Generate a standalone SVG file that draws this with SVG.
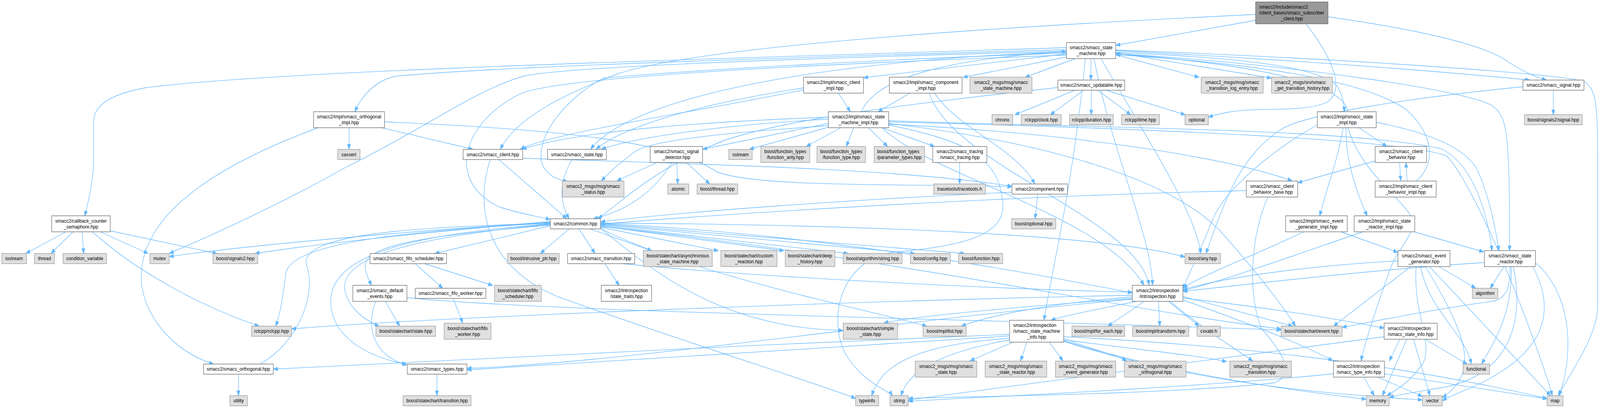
<svg xmlns="http://www.w3.org/2000/svg" width="4643" height="1042" viewBox="0 0 4643 1042">
<style>
.n rect{fill:#ffffff;stroke:#666666;stroke-width:1.33}
.x rect{fill:#e0e0e0;stroke:#999999;stroke-width:1.33}
.r rect{fill:#999999;stroke:#666666;stroke-width:1.33}
text{font-family:"Liberation Sans",Arial,Helvetica,sans-serif;font-size:13.33px;fill:#000000;text-anchor:middle}
text.l{text-anchor:start}
#edges path{fill:none;stroke:#63b8ff;stroke-width:1.33;marker-end:url(#a)}
</style>
<defs>
<marker id="a" markerUnits="userSpaceOnUse" markerWidth="14" markerHeight="10" refX="13" refY="5" orient="auto"><path d="M0,0L13,5L0,10z" fill="#63b8ff" stroke="#63b8ff" stroke-width="1"/></marker>
</defs>
<rect width="4643" height="1042" fill="#ffffff"/>
<g id="diagram" transform="scale(0.8821,1)">
<g id="edges">
<path d="M3644,37 C3100,60 2050,110 1790,190 C1640,240 1500,300 1452,382"/>
<path d="M3644,52 L3238,116"/>
<path d="M3790,61 C3860,140 3910,230 3850,262 C3780,290 3660,272 3560,288 C3535,292 3520,296 3507,300"/>
<path d="M3854,43 C4150,80 4320,120 4380,160 C4430,190 4470,200 4488,205"/>
<path d="M3166,150 L3166,205"/>
<path d="M3238,140 L3480,198"/>
<path d="M3238,135 L3690,200"/>
<path d="M3120,150 L2975,198"/>
<path d="M3095,146 L2795,198"/>
<path d="M3095,138 L2506,199"/>
<path d="M3238,130 C3700,150 4150,180 4440,205"/>
<path d="M3238,134 C3650,150 3830,175 3880,220 C3895,240 3900,260 3902,286"/>
<path d="M3238,137 C3750,165 4250,230 4330,270 C4375,300 4381,330 4381,642"/>
<path d="M3238,128 C3900,150 4560,190 4600,210 C4630,230 4637,260 4637,400 L4637,780 C4637,860 4560,950 4522,1013"/>
<path d="M3095,122 C2100,150 800,180 420,225 C300,245 272,280 272,310 L272,400 C272,460 258,510 246,553"/>
<path d="M3095,127 C2200,150 1450,170 1150,195 C1090,205 1050,245 1030,286"/>
<path d="M3095,133 C2500,150 1850,230 1714,382"/>
<path d="M3095,141 C2200,170 1620,200 1510,240 C1330,320 1300,470 1450,530 C1500,545 1550,552 1597,562"/>
<path d="M3175,150 C3230,400 3340,600 3345,730"/>
<path d="M3150,150 C3110,500 3050,700 3030,820"/>
<path d="M3195,150 C3360,400 3470,550 3485,649"/>
<path d="M3095,131 C2300,150 1650,170 1520,195 C1380,230 1250,320 1000,430 C820,520 620,600 491,649"/>
<path d="M3095,136 C2600,150 2000,180 1750,200 C1650,250 1570,330 1570,400 C1570,440 1610,460 1647,464"/>
<path d="M2433,238 L2468,286"/>
<path d="M2332,230 C2000,290 1600,340 1510,382"/>
<path d="M2642,238 L2548,286"/>
<path d="M2712,238 C2780,330 2950,380 3003,471"/>
<path d="M2697,238 C2760,420 3300,560 3335,730"/>
<path d="M3120,231 L2945,294"/>
<path d="M3145,231 L3048,294"/>
<path d="M3167,231 L3167,294"/>
<path d="M3186,231 L3282,294"/>
<path d="M3210,231 L3440,294"/>
<path d="M3070,224 C2700,260 2300,300 2100,360 C1900,430 1800,520 1735,560"/>
<path d="M4508,231 L4508,294"/>
<path d="M4420,222 C4100,250 3800,290 3720,330 C3600,400 3560,500 3500,649"/>
<path d="M1013,327 L1013,382"/>
<path d="M1108,327 L1372,382"/>
<path d="M923,327 C700,400 420,520 410,700 C405,800 500,900 620,932"/>
<path d="M1116,312 C1600,330 1950,360 2080,440 C2200,480 2600,470 2937,478"/>
<path d="M2500,286 C2540,200 2750,150 3095,132"/>
<path d="M2478,327 L2456,375"/>
<path d="M2520,327 L2576,375"/>
<path d="M2560,327 L2712,375"/>
<path d="M2440,327 L2340,375"/>
<path d="M2420,322 L2175,382"/>
<path d="M2404,316 L2039,382"/>
<path d="M2404,322 C2100,340 1880,360 1840,390 C1780,430 1760,450 1745,463"/>
<path d="M2404,305 C2100,320 1850,350 1745,382"/>
<path d="M2404,300 C2100,310 1700,330 1515,382"/>
<path d="M2579,318 C3100,340 3550,400 3750,463"/>
<path d="M2579,309 C3300,330 3900,330 4180,380 C4280,420 4320,560 4330,642"/>
<path d="M2579,312 C3400,330 4100,360 4200,400 C4300,500 4470,900 4505,1013"/>
<path d="M2579,320 C2800,360 2900,400 2910,520 C2920,600 2800,630 2600,645 C2450,660 2400,800 2450,900 C2500,980 2580,1000 2590,1013"/>
<path d="M2560,327 C2700,450 3200,550 3320,730"/>
<path d="M2579,316 C3000,360 3400,450 3550,600 C3650,700 3720,780 3760,835"/>
<path d="M3912,286 C3900,220 3700,170 3238,137"/>
<path d="M3944,327 L4025,375"/>
<path d="M3906,327 C3905,400 3930,480 3968,553"/>
<path d="M3994,313 C4150,340 4260,380 4290,440 C4320,500 4340,580 4350,642"/>
<path d="M3898,327 C3880,420 3850,480 3830,553"/>
<path d="M3823,320 C3700,380 3560,480 3520,560 C3480,650 3450,700 3433,740"/>
<path d="M3912,327 C3950,440 4060,500 4100,560 C4110,600 4050,640 4030,700 C3990,800 3960,880 3950,924"/>
<path d="M1447,408 L1645,560"/>
<path d="M1517,405 C2000,420 2600,430 2937,477"/>
<path d="M1423,408 C1380,520 1400,680 1620,760 C2000,880 2400,990 2483,1020"/>
<path d="M1660,408 C1620,470 1625,520 1652,560"/>
<path d="M1907,416 L1790,463"/>
<path d="M1964,416 L1967,471"/>
<path d="M1992,416 L2060,471"/>
<path d="M1950,416 C1900,490 1820,540 1722,560"/>
<path d="M2785,416 L2785,471"/>
<path d="M4062,416 L4065,463"/>
<path d="M3991,412 L3766,468"/>
<path d="M4084,463 L4080,416"/>
<path d="M4110,463 C4170,420 4160,340 4080,280 C3950,200 3600,160 3238,140"/>
<path d="M3617,488 C3000,500 2200,540 1743,574"/>
<path d="M3680,504 C3630,600 3620,750 3660,840 C3740,920 3750,960 3700,980 C3400,1010 2800,1015 2636,1020"/>
<path d="M3012,497 L3004,560"/>
<path d="M2937,492 C2500,510 2000,540 1743,568"/>
<path d="M192,593 L75,649"/>
<path d="M212,593 L148,649"/>
<path d="M238,593 L243,649"/>
<path d="M290,593 L430,649"/>
<path d="M320,591 L630,649"/>
<path d="M268,593 C400,700 600,790 752,835"/>
<path d="M1652,586 L1568,649"/>
<path d="M1680,586 L1727,649"/>
<path d="M1712,586 L1892,642"/>
<path d="M1743,582 L2085,642"/>
<path d="M1743,579 L2275,642"/>
<path d="M1743,577 L2462,649"/>
<path d="M1743,575 L2655,649"/>
<path d="M1743,573 L2800,649"/>
<path d="M1743,571 C2500,575 3200,600 3439,658"/>
<path d="M1743,572 C2400,600 3000,700 3286,750"/>
<path d="M1743,580 C2600,660 3300,800 3718,842"/>
<path d="M1743,584 C1900,700 2100,840 2447,846"/>
<path d="M1743,585 C2000,700 2500,790 2690,835"/>
<path d="M1597,578 L1262,649"/>
<path d="M1597,576 C1300,600 1060,620 1060,680 C1060,700 1070,715 1078,731"/>
<path d="M1597,574 C1300,600 990,640 1000,740 C1010,790 1060,820 1100,835"/>
<path d="M1597,573 C1200,600 950,650 960,780 C970,880 1100,920 1180,932"/>
<path d="M1597,571 C1200,590 840,620 830,700 C820,760 815,800 800,835"/>
<path d="M1597,569 C1200,590 700,630 491,657"/>
<path d="M1597,567 C1300,590 950,620 740,649"/>
<path d="M755,932 C860,880 920,760 890,680 C860,600 1200,580 1597,572"/>
<path d="M1205,675 L1285,738"/>
<path d="M1232,675 L1430,731"/>
<path d="M1118,771 L1160,835"/>
<path d="M1090,771 C1060,850 1090,910 1180,935"/>
<path d="M1181,762 C1600,800 3000,820 3718,845"/>
<path d="M1315,764 L1343,827"/>
<path d="M1755,675 L1797,731"/>
<path d="M1806,675 C2200,710 2900,740 3286,748"/>
<path d="M3322,771 L3215,835"/>
<path d="M3362,771 L3366,835"/>
<path d="M3390,771 L3480,835"/>
<path d="M3433,759 L3752,835"/>
<path d="M3433,763 C3700,790 3900,820 4017,840"/>
<path d="M3433,768 C3600,820 3780,880 3868,924"/>
<path d="M3395,771 C3460,820 3560,880 3636,924"/>
<path d="M3300,771 C3200,790 3100,805 3050,820"/>
<path d="M3286,760 C3000,780 2850,815 2790,835"/>
<path d="M3286,764 C2900,790 2650,810 2565,827"/>
<path d="M3286,756 C2500,770 1300,810 846,842"/>
<path d="M3286,766 C2600,820 1800,930 1355,943"/>
<path d="M2940,876 L2815,924"/>
<path d="M2980,876 L2962,924"/>
<path d="M3045,876 L3085,924"/>
<path d="M3087,866 C3150,890 3230,905 3270,924"/>
<path d="M3087,870 C3300,895 3480,910 3560,926"/>
<path d="M2930,866 C2700,880 2560,920 2530,1013"/>
<path d="M2930,870 C2750,900 2640,940 2615,1013"/>
<path d="M3087,862 C3500,880 4000,920 4490,1020"/>
<path d="M3087,872 C3400,960 3800,1005 3965,1022"/>
<path d="M3087,874 C3500,990 3900,1010 4128,1024"/>
<path d="M2930,860 C2400,890 1700,930 1355,947"/>
<path d="M2930,856 C2200,880 1200,930 793,945"/>
<path d="M4063,868 L4032,924"/>
<path d="M4083,868 L4012,1013"/>
<path d="M4102,868 L4150,1013"/>
<path d="M4135,868 L4258,932"/>
<path d="M4017,862 C3700,900 3000,980 2636,1024"/>
<path d="M3958,965 L3988,1013"/>
<path d="M3997,965 L4128,1015"/>
<path d="M4018,957 L4490,1021"/>
<path d="M3870,957 C3500,990 2900,1015 2636,1027"/>
<path d="M4095,682 L3870,835"/>
<path d="M4110,682 C4100,800 4160,880 4130,930 C4090,980 4050,1000 4025,1013"/>
<path d="M4122,682 C4150,800 4250,850 4270,932"/>
<path d="M4137,682 C4250,850 4300,950 4186,1018"/>
<path d="M4148,682 L4500,1013"/>
<path d="M4175,682 L4283,738"/>
<path d="M4057,668 C3800,680 3550,710 3433,742"/>
<path d="M4365,682 L4325,738"/>
<path d="M4383,682 C4383,740 4370,760 4340,770 C4100,800 3950,830 3895,838"/>
<path d="M4386,682 C4390,800 4340,870 4300,932"/>
<path d="M4392,682 C4420,800 4400,950 4200,990 C4100,1005 4060,1010 4032,1018"/>
<path d="M4448,682 C4520,800 4480,900 4300,980 C4240,1005 4210,1012 4186,1026"/>
<path d="M4456,673 C4560,750 4570,900 4525,1013"/>
<path d="M4308,672 C4000,690 3700,720 3433,746"/>
<path d="M3890,593 L4057,646"/>
<path d="M3785,593 C3650,650 3500,700 3433,737"/>
<path d="M4102,593 L4306,645"/>
<path d="M3957,593 C3800,640 3550,720 3433,744"/>
<path d="M2332,225 C2000,270 1800,330 1730,382"/>
<path d="M692,958 L692,1013"/>
<path d="M1268,958 L1268,1013"/>
</g>
<g id="node-title" class="r"><rect x="3644" y="5" width="210" height="56"/><text class="l" x="3654.5" y="22.5">smacc2/include/smacc2</text><text class="l" x="3654.5" y="37.5">/client_bases/smacc_subscriber</text><text x="3749" y="52.5">_client.hpp</text></g>
<g id="node-state-machine" class="n"><rect x="3095" y="109" width="143" height="41"/><text x="3166.5" y="126.5">smacc2/smacc_state</text><text x="3166.5" y="141.5">_machine.hpp</text></g>
<g id="node-client-impl" class="n"><rect x="2332" y="197.5" width="174" height="41"/><text x="2419" y="215">smacc2/impl/smacc_client</text><text x="2419" y="230">_impl.hpp</text></g>
<g id="node-component-impl" class="n"><rect x="2581" y="197.5" width="211" height="41"/><text x="2686.5" y="215">smacc2/impl/smacc_component</text><text x="2686.5" y="230">_impl.hpp</text></g>
<g id="node-msgs-state-machine" class="x"><rect x="2815" y="197.5" width="180" height="41"/><text x="2905" y="215">smacc2_msgs/msg/smacc</text><text x="2905" y="230">_state_machine.hpp</text></g>
<g id="node-updatable" class="n"><rect x="3070" y="205" width="194" height="26"/><text x="3167" y="222.5">smacc2/smacc_updatable.hpp</text></g>
<g id="node-transition-log" class="x"><rect x="3486" y="197.5" width="180" height="41"/><text x="3576" y="215">smacc2_msgs/msg/smacc</text><text x="3576" y="230">_transition_log_entry.hpp</text></g>
<g id="node-get-history" class="x"><rect x="3690" y="197.5" width="177" height="41"/><text class="l" x="3699" y="215">smacc2_msgs/srv/smacc</text><text x="3778.5" y="230">_get_transition_history.hpp</text></g>
<g id="node-signal" class="n"><rect x="4420" y="205" width="177" height="26"/><text x="4508.5" y="222.5">smacc2/smacc_signal.hpp</text></g>
<g id="node-orthogonal-impl" class="n"><rect x="910" y="286" width="206" height="41"/><text x="1013" y="303.5">smacc2/impl/smacc_orthogonal</text><text x="1013" y="318.5">_impl.hpp</text></g>
<g id="node-state-machine-impl" class="n"><rect x="2404" y="286" width="175" height="41"/><text x="2491.5" y="303.5">smacc2/impl/smacc_state</text><text x="2491.5" y="318.5">_machine_impl.hpp</text></g>
<g id="node-chrono" class="x"><rect x="2879" y="293.5" width="60" height="26"/><text x="2909" y="311">chrono</text></g>
<g id="node-clock" class="x"><rect x="2964" y="293.5" width="116" height="26"/><text x="3022" y="311">rclcpp/clock.hpp</text></g>
<g id="node-duration" class="x"><rect x="3104" y="293.5" width="127" height="26"/><text x="3167.5" y="311">rclcpp/duration.hpp</text></g>
<g id="node-time" class="x"><rect x="3255" y="293.5" width="110" height="26"/><text x="3310" y="311">rclcpp/time.hpp</text></g>
<g id="node-optional" class="x"><rect x="3439" y="293.5" width="68" height="26"/><text x="3473" y="311">optional</text></g>
<g id="node-state-impl" class="n"><rect x="3823" y="286" width="171" height="41"/><text x="3908.5" y="303.5">smacc2/impl/smacc_state</text><text x="3908.5" y="318.5">_impl.hpp</text></g>
<g id="node-signals2-signal" class="x"><rect x="4424" y="293.5" width="168" height="26"/><text x="4508" y="311">boost/signals2/signal.hpp</text></g>
<g id="node-cassert" class="x"><rect x="980" y="382.5" width="65" height="26"/><text x="1012.5" y="400">cassert</text></g>
<g id="node-client" class="n"><rect x="1344" y="382.5" width="173" height="26"/><text x="1430.5" y="400">smacc2/smacc_client.hpp</text></g>
<g id="node-state" class="n"><rect x="1589" y="382.5" width="171" height="26"/><text x="1674.5" y="400">smacc2/smacc_state.hpp</text></g>
<g id="node-signal-detector" class="n"><rect x="1887" y="375" width="152" height="41"/><text x="1963" y="392.5">smacc2/smacc_signal</text><text x="1963" y="407.5">_detector.hpp</text></g>
<g id="node-sstream" class="x"><rect x="2115" y="382.5" width="68" height="26"/><text x="2149" y="400">sstream</text></g>
<g id="node-function-arity" class="x"><rect x="2208" y="375" width="142" height="41"/><text x="2279" y="392.5">boost/function_types</text><text x="2279" y="407.5">/function_arity.hpp</text></g>
<g id="node-function-type" class="x"><rect x="2371" y="375" width="141" height="41"/><text x="2441.5" y="392.5">boost/function_types</text><text x="2441.5" y="407.5">/function_type.hpp</text></g>
<g id="node-parameter-types" class="x"><rect x="2537" y="375" width="146" height="41"/><text class="l" x="2546" y="392.5">boost/function_types</text><text x="2610" y="407.5">/parameter_types.hpp</text></g>
<g id="node-tracing" class="n"><rect x="2707" y="375" width="157" height="41"/><text x="2785.5" y="392.5">smacc2/smacc_tracing</text><text x="2785.5" y="407.5">/smacc_tracing.hpp</text></g>
<g id="node-client-behavior" class="n"><rect x="3991" y="375" width="149" height="41"/><text x="4065.5" y="392.5">smacc2/smacc_client</text><text x="4065.5" y="407.5">_behavior.hpp</text></g>
<g id="node-status" class="x"><rect x="1632" y="463.5" width="179" height="41"/><text x="1721.5" y="481">smacc2_msgs/msg/smacc</text><text x="1721.5" y="496">_status.hpp</text></g>
<g id="node-atomic" class="x"><rect x="1938" y="471" width="61" height="26"/><text x="1968.5" y="488.5">atomic</text></g>
<g id="node-boost-thread" class="x"><rect x="2023" y="471" width="118" height="26"/><text x="2082" y="488.5">boost/thread.hpp</text></g>
<g id="node-tracetools" class="x"><rect x="2710" y="471" width="150" height="26"/><text x="2785" y="488.5">tracetools/tracetools.h</text></g>
<g id="node-component" class="n"><rect x="2937" y="471" width="161" height="26"/><text x="3017.5" y="488.5">smacc2/component.hpp</text></g>
<g id="node-client-behavior-base" class="n"><rect x="3617" y="463.5" width="149" height="41"/><text x="3691.5" y="481">smacc2/smacc_client</text><text x="3691.5" y="496">_behavior_base.hpp</text></g>
<g id="node-client-behavior-impl" class="n"><rect x="3991" y="463.5" width="177" height="41"/><text x="4079.5" y="481">smacc2/impl/smacc_client</text><text x="4079.5" y="496">_behavior_impl.hpp</text></g>
<g id="node-callback-counter" class="n"><rect x="150" y="552.5" width="170" height="41"/><text x="235" y="570">smacc2/callback_counter</text><text x="235" y="585">_semaphore.hpp</text></g>
<g id="node-common" class="n"><rect x="1597" y="560" width="146" height="26"/><text x="1670" y="577.5">smacc2/common.hpp</text></g>
<g id="node-boost-optional" class="x"><rect x="2936" y="560" width="128" height="26"/><text x="3000" y="577.5">boost/optional.hpp</text></g>
<g id="node-event-generator-impl" class="n"><rect x="3731" y="552.5" width="179" height="41"/><text x="3820.5" y="570">smacc2/impl/smacc_event</text><text x="3820.5" y="585">_generator_impl.hpp</text></g>
<g id="node-state-reactor-impl" class="n"><rect x="3930" y="552.5" width="176" height="41"/><text x="4018" y="570">smacc2/impl/smacc_state</text><text x="4018" y="585">_reactor_impl.hpp</text></g>
<g id="node-iostream" class="x"><rect x="5" y="649" width="72" height="26"/><text x="41" y="666.5">iostream</text></g>
<g id="node-thread" class="x"><rect x="100" y="649" width="58" height="26"/><text x="129" y="666.5">thread</text></g>
<g id="node-condition-variable" class="x"><rect x="183" y="649" width="126" height="26"/><text x="246" y="666.5">condition_variable</text></g>
<g id="node-mutex" class="x"><rect x="435" y="649" width="56" height="26"/><text x="463" y="666.5">mutex</text></g>
<g id="node-signals2" class="x"><rect x="618" y="649" width="130" height="26"/><text x="683" y="666.5">boost/signals2.hpp</text></g>
<g id="node-fifo-scheduler" class="n"><rect x="1074" y="649" width="222" height="26"/><text x="1185" y="666.5">smacc2/smacc_fifo_scheduler.hpp</text></g>
<g id="node-intrusive-ptr" class="x"><rect x="1473" y="649" width="150" height="26"/><text x="1548" y="666.5">boost/intrusive_ptr.hpp</text></g>
<g id="node-transition" class="n"><rect x="1647" y="649" width="195" height="26"/><text x="1744.5" y="666.5">smacc2/smacc_transition.hpp</text></g>
<g id="node-async-sm" class="x"><rect x="1867" y="641.5" width="200" height="41"/><text x="1967" y="659">boost/statechart/asynchronous</text><text x="1967" y="674">_state_machine.hpp</text></g>
<g id="node-custom-reaction" class="x"><rect x="2092" y="641.5" width="163" height="41"/><text x="2173.5" y="659">boost/statechart/custom</text><text x="2173.5" y="674">_reaction.hpp</text></g>
<g id="node-deep-history" class="x"><rect x="2279" y="641.5" width="144" height="41"/><text x="2351" y="659">boost/statechart/deep</text><text x="2351" y="674">_history.hpp</text></g>
<g id="node-algorithm-string" class="x"><rect x="2447" y="649" width="171" height="26"/><text x="2532.5" y="666.5">boost/algorithm/string.hpp</text></g>
<g id="node-config" class="x"><rect x="2642" y="649" width="116" height="26"/><text x="2700" y="666.5">boost/config.hpp</text></g>
<g id="node-function" class="x"><rect x="2782" y="649" width="128" height="26"/><text x="2846" y="666.5">boost/function.hpp</text></g>
<g id="node-any" class="x"><rect x="3439" y="649" width="103" height="26"/><text x="3490.5" y="666.5">boost/any.hpp</text></g>
<g id="node-event-generator" class="n"><rect x="4057" y="641.5" width="151" height="41"/><text x="4132.5" y="659">smacc2/smacc_event</text><text x="4132.5" y="674">_generator.hpp</text></g>
<g id="node-state-reactor" class="n"><rect x="4308" y="641.5" width="148" height="41"/><text x="4382" y="659">smacc2/smacc_state</text><text x="4382" y="674">_reactor.hpp</text></g>
<g id="node-default-events" class="n"><rect x="1024" y="730.5" width="157" height="41"/><text x="1102.5" y="748">smacc2/smacc_default</text><text x="1102.5" y="763">_events.hpp</text></g>
<g id="node-fifo-worker" class="n"><rect x="1205" y="738" width="205" height="26"/><text x="1307.5" y="755.5">smacc2/smacc_fifo_worker.hpp</text></g>
<g id="node-sc-fifo-scheduler" class="x"><rect x="1435" y="730.5" width="136" height="41"/><text x="1503" y="748">boost/statechart/fifo</text><text x="1503" y="763">_scheduler.hpp</text></g>
<g id="node-state-traits" class="n"><rect x="1745" y="730.5" width="146" height="41"/><text x="1818" y="748">smacc2/introspection</text><text x="1818" y="763">/state_traits.hpp</text></g>
<g id="node-introspection" class="n"><rect x="3286" y="730.5" width="147" height="41"/><text x="3359.5" y="748">smacc2/introspection</text><text x="3359.5" y="763">/introspection.hpp</text></g>
<g id="node-algorithm" class="x"><rect x="4273" y="738" width="74" height="26"/><text x="4310" y="755.5">algorithm</text></g>
<g id="node-rclcpp" class="x"><rect x="730" y="835" width="116" height="26"/><text x="788" y="852.5">rclcpp/rclcpp.hpp</text></g>
<g id="node-sc-state" class="x"><rect x="1091" y="835" width="173" height="26"/><text x="1177.5" y="852.5">boost/statechart/state.hpp</text></g>
<g id="node-sc-fifo-worker" class="x"><rect x="1289" y="827.5" width="136" height="41"/><text x="1357" y="845">boost/statechart/fifo</text><text x="1357" y="860">_worker.hpp</text></g>
<g id="node-simple-state" class="x"><rect x="2447" y="827.5" width="158" height="41"/><text x="2526" y="845">boost/statechart/simple</text><text x="2526" y="860">_state.hpp</text></g>
<g id="node-mpl-list" class="x"><rect x="2679" y="835" width="125" height="26"/><text x="2741.5" y="852.5">boost/mpl/list.hpp</text></g>
<g id="node-sm-info" class="n"><rect x="2930" y="820" width="157" height="56"/><text class="l" x="2940.5" y="837.5">smacc2/introspection</text><text class="l" x="2940.5" y="852.5">/smacc_state_machine</text><text x="3008.5" y="867.5">_info.hpp</text></g>
<g id="node-for-each" class="x"><rect x="3111" y="835" width="153" height="26"/><text x="3187.5" y="852.5">boost/mpl/for_each.hpp</text></g>
<g id="node-transform" class="x"><rect x="3287" y="835" width="163" height="26"/><text x="3368.5" y="852.5">boost/mpl/transform.hpp</text></g>
<g id="node-cxxabi" class="x"><rect x="3474" y="835" width="68" height="26"/><text x="3508" y="852.5">cxxabi.h</text></g>
<g id="node-sc-event" class="x"><rect x="3718" y="835" width="177" height="26"/><text x="3806.5" y="852.5">boost/statechart/event.hpp</text></g>
<g id="node-state-info" class="n"><rect x="4017" y="827.5" width="154" height="41"/><text class="l" x="4027.5" y="845">smacc2/introspection</text><text x="4094" y="860">/smacc_state_info.hpp</text></g>
<g id="node-orthogonal" class="n"><rect x="591" y="932" width="202" height="26"/><text x="692" y="949.5">smacc2/smacc_orthogonal.hpp</text></g>
<g id="node-types" class="n"><rect x="1182" y="932" width="173" height="26"/><text x="1268.5" y="949.5">smacc2/smacc_types.hpp</text></g>
<g id="node-msgs-state" class="x"><rect x="2656" y="924.5" width="179" height="41"/><text x="2745.5" y="942">smacc2_msgs/msg/smacc</text><text x="2745.5" y="957">_state.hpp</text></g>
<g id="node-msgs-state-reactor" class="x"><rect x="2859" y="924.5" width="179" height="41"/><text x="2948.5" y="942">smacc2_msgs/msg/smacc</text><text x="2948.5" y="957">_state_reactor.hpp</text></g>
<g id="node-msgs-event-generator" class="x"><rect x="3063" y="924.5" width="175" height="41"/><text x="3150.5" y="942">smacc2_msgs/msg/smacc</text><text x="3150.5" y="957">_event_generator.hpp</text></g>
<g id="node-msgs-orthogonal" class="x"><rect x="3263" y="924.5" width="179" height="41"/><text x="3352.5" y="942">smacc2_msgs/msg/smacc</text><text x="3352.5" y="957">_orthogonal.hpp</text></g>
<g id="node-msgs-transition" class="x"><rect x="3569" y="924.5" width="179" height="41"/><text x="3658.5" y="942">smacc2_msgs/msg/smacc</text><text x="3658.5" y="957">_transition.hpp</text></g>
<g id="node-type-info" class="n"><rect x="3870" y="924.5" width="148" height="41"/><text class="l" x="3879" y="942">smacc2/introspection</text><text x="3944" y="957">/smacc_type_info.hpp</text></g>
<g id="node-functional" class="x"><rect x="4246" y="932" width="77" height="26"/><text x="4284.5" y="949.5">functional</text></g>
<g id="node-utility" class="x"><rect x="667" y="1013" width="51" height="26"/><text x="692.5" y="1030.5">utility</text></g>
<g id="node-sc-transition" class="x"><rect x="1170" y="1013" width="197" height="26"/><text x="1268.5" y="1030.5">boost/statechart/transition.hpp</text></g>
<g id="node-typeinfo" class="x"><rect x="2483" y="1013" width="67" height="26"/><text x="2516.5" y="1030.5">typeinfo</text></g>
<g id="node-string" class="x"><rect x="2583" y="1013" width="53" height="26"/><text x="2609.5" y="1030.5">string</text></g>
<g id="node-memory" class="x"><rect x="3965" y="1013" width="67" height="26"/><text x="3998.5" y="1030.5">memory</text></g>
<g id="node-vector" class="x"><rect x="4128" y="1013" width="58" height="26"/><text x="4157" y="1030.5">vector</text></g>
<g id="node-map" class="x"><rect x="4490" y="1013" width="46" height="26"/><text x="4513" y="1030.5">map</text></g>
</g>
</svg>
